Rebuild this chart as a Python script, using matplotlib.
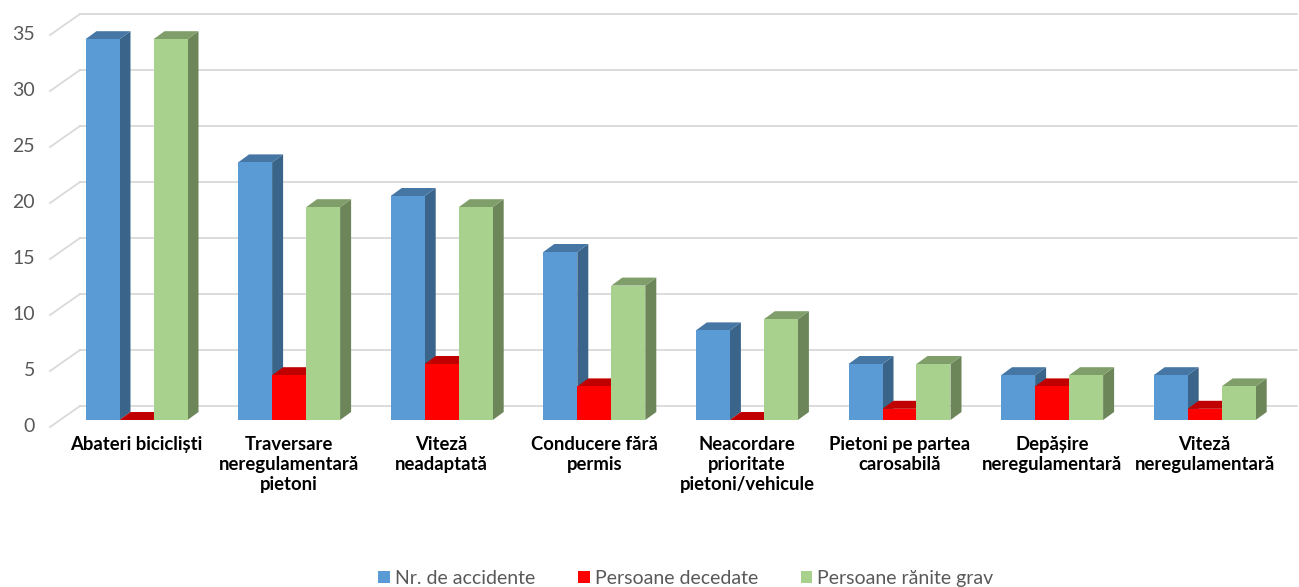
import matplotlib
matplotlib.use("Agg")
import matplotlib.pyplot as plt
from matplotlib.patches import Polygon, Patch

plt.rcParams['font.family'] = ['Lato', 'DejaVu Sans']

# Data
categories = [
    "Abateri bicicliști",
    "Traversare\nneregulamentară\npietoni",
    "Viteză\nneadaptată",
    "Conducere fără\npermis",
    "Neacordare\nprioritate\npietoni/vehicule",
    "Pietoni pe partea\ncarosabilă",
    "Depășire\nneregulamentară",
    "Viteză\nneregulamentară",
]
series_names = ["Nr. de accidente", "Persoane decedate", "Persoane rănite grav"]
accidente = [34, 23, 20, 15, 8, 5, 4, 4]
decedate = [0, 4, 5, 3, 0, 1, 3, 1]
raniti = [34, 19, 19, 12, 9, 5, 4, 3]
yticks = [0, 5, 10, 15, 20, 25, 30, 35]

# colours: front, side, top
colors = [
    ("#5B9BD5", "#3A6489", "#4576A4"),
    ("#FF0000", "#A00000", "#C00000"),
    ("#A9D18E", "#6C8659", "#7F9E6A"),
]

W, H = 1299, 587
fig = plt.figure(figsize=(W / 100, H / 100), dpi=100)
ax = fig.add_axes([0, 0, 1, 1])

# pixel scales of the plot
PX_X = 152.6   # pixels per category
X0 = 136.5     # pixel x of first category centre
PX_Y = 11.2    # pixels per unit
Y0 = 420       # pixel y (from top) of value 0 at the bar front
ax.set_xlim(-X0 / PX_X, (W - X0) / PX_X)
ax.set_ylim(-(H - Y0) / PX_Y, Y0 / PX_Y)
ax.axis('off')


def px_x(p):
    return (p - X0) / PX_X


def dx(p):
    return p / PX_X


def dy(p):
    return p / PX_Y


# back wall grid + left diagonal
grid_c = "#D9D9D9"
for v in yticks:
    yb = v + dy(14)
    yf = v - dy(7)
    ax.plot([px_x(80), px_x(1297)], [yb, yb], color=grid_c, lw=1.3, zorder=1)
    ax.plot([px_x(50), px_x(80)], [yf, yb], color=grid_c, lw=1.3, zorder=1)
    ax.text(px_x(35), yf, str(v), ha='right', va='center',
            fontsize=14, color='#595959')

# bars
bw = dx(34)
ddx, ddy = dx(11), dy(8)
all_series = [accidente, decedate, raniti]
for i in range(len(categories)):
    for s, vals in enumerate(all_series):
        v = vals[i]
        x0 = i + (s - 1) * bw - bw / 2
        x1 = x0 + bw
        front, side, top = colors[s]
        z = 2 + i * 3 + s
        ax.add_patch(Polygon([(x1, 0), (x1 + ddx, ddy), (x1 + ddx, v + ddy), (x1, v)],
                             closed=True, facecolor=side, edgecolor='none', zorder=z))
        ax.add_patch(Polygon([(x0, v), (x0 + ddx, v + ddy), (x1 + ddx, v + ddy), (x1, v)],
                             closed=True, facecolor=top, edgecolor='none', zorder=z))
        ax.add_patch(Polygon([(x0, 0), (x1, 0), (x1, v), (x0, v)],
                             closed=True, facecolor=front, edgecolor='none', zorder=z))

# category labels
for i, lab in enumerate(categories):
    ax.text(i, -dy(16), lab, ha='center', va='top', multialignment='center',
            fontsize=13.3, fontweight='bold', color='black', linespacing=1.2)

handles = [Patch(facecolor=c[0], edgecolor='none') for c in colors]
fig.legend(handles, series_names, loc='lower center', bbox_to_anchor=(0.528, -0.03),
           ncol=3, frameon=False, fontsize=14, handlelength=0.6, handleheight=0.6,
           handletextpad=0.25, columnspacing=2.2, labelcolor='#595959')

fig.savefig("out.png", dpi=100)
